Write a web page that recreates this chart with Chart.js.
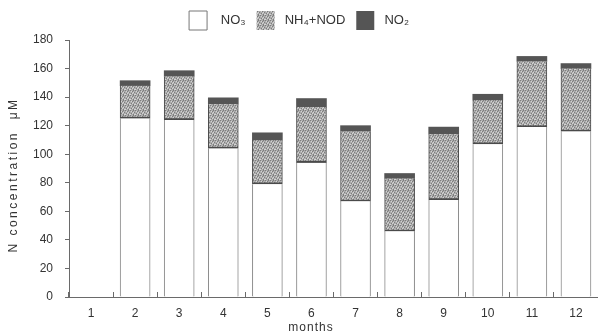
<!DOCTYPE html>
<html>
<head>
<meta charset="utf-8">
<script src="https://cdn.jsdelivr.net/npm/chart.js@4"></script>
<style>
  html, body { margin: 0; padding: 0; background: #fff; }
  #chart { display: block; }
</style>
</head>
<body>
<canvas id="chart" width="598" height="333"></canvas>
<script>
const months = ['1', '2', '3', '4', '5', '6', '7', '8', '9', '10', '11', '12'];
const no3 = [null, 125, 124, 104, 79, 94, 67, 46, 68, 107, 119, 116];
const nh4Nod = [null, 23, 30.5, 31, 31, 39, 49, 37, 46, 31, 46, 44];
const no2 = [null, 3.5, 4, 4.5, 5, 6, 4, 3.5, 5, 4, 3.5, 3.5];
const yTicks = [0, 20, 40, 60, 80, 100, 120, 140, 160, 180];

const axisColor = '#6a6a6a';
const textColor = '#333333';
const fontFamily = '"Liberation Sans", Arial, sans-serif';

// grey stipple fill for NH4+NOD
function stipple() {
  const c = document.createElement('canvas');
  c.width = 5; c.height = 5;
  const g = c.getContext('2d');
  g.fillStyle = '#acacac';
  g.fillRect(0, 0, 5, 5);
  g.fillStyle = '#7c7c7c';
  [[0, 0], [2, 1], [4, 2], [1, 3], [3, 4], [3, 0]].forEach(([x, y]) => g.fillRect(x, y, 1, 1));
  g.fillStyle = '#d4d4d4';
  [[1, 1], [3, 2], [0, 4], [4, 4], [2, 3]].forEach(([x, y]) => g.fillRect(x, y, 1, 1));
  return g.createPattern(c, 'repeat');
}

const titles = {
  id: 'axisTitles',
  afterDraw(chart) {
    const ctx = chart.ctx;
    ctx.save();
    ctx.fillStyle = textColor;
    ctx.font = '12px ' + fontFamily;
    ctx.textAlign = 'center';
    ctx.textBaseline = 'middle';
    ctx.letterSpacing = '1px';
    ctx.fillText('months', 311, 328);
    ctx.translate(14, 175);
    ctx.rotate(-Math.PI / 2);
    ctx.letterSpacing = '2.5px';
    ctx.fillText('N concentration  \u03bcM', 0, 0);
    ctx.restore();
  }
};

const ctx = document.getElementById('chart').getContext('2d');
new Chart(ctx, {
  type: 'bar',
  data: {
    labels: months,
    datasets: [
      {
        label: '  NO\u2083',
        data: no3,
        backgroundColor: '#ffffff',
        borderColor: '#8a8a8a',
        borderWidth: { left: 1, right: 1, top: 0, bottom: 0 },
        borderSkipped: false,
      },
      {
        label: ' NH\u2084+NOD',
        data: nh4Nod,
        backgroundColor: stipple(),
        borderColor: '#4a4a4a',
        borderWidth: { left: 1, right: 1, top: 0, bottom: 2 },
        borderSkipped: false,
      },
      {
        label: ' NO\u2082',
        data: no2,
        backgroundColor: '#555555',
        borderColor: '#555555',
        borderWidth: 0,
      },
    ],
  },
  options: {
    responsive: false,
    animation: false,
    datasets: {
      bar: { barThickness: 30 },
    },
    plugins: {
      legend: {
        position: 'top',
        labels: {
          boxWidth: 18,
          boxHeight: 19,
          padding: 11,
          color: textColor,
          font: { size: 13, family: fontFamily },
          generateLabels: chart => Chart.defaults.plugins.legend.labels.generateLabels(chart)
            .map((item, i) => ({ ...item, lineWidth: i === 0 ? 1 : 0, strokeStyle: '#777777' })),
        },
      },
      tooltip: { enabled: false },
    },
    scales: {
      x: {
        stacked: true,
        offset: true,
        afterFit: s => { s.height = 36; },
        grid: {
          offset: true,
          drawOnChartArea: false,
          tickLength: -5,
          color: axisColor,
        },
        border: { color: axisColor, width: 1 },
        ticks: { color: textColor, padding: 14, font: { size: 12, family: fontFamily } },
      },
      y: {
        stacked: true,
        min: 0,
        max: 180,
        afterFit: s => { s.width = 69; },
        afterBuildTicks: s => { s.ticks = yTicks.map(v => ({ value: v })); },
        grid: { drawOnChartArea: false, tickLength: 4, color: axisColor },
        border: { color: axisColor, width: 1 },
        ticks: { color: textColor, padding: 12, font: { size: 12, family: fontFamily } },
      },
    },
  },
  plugins: [titles],
});
</script>
</body>
</html>
